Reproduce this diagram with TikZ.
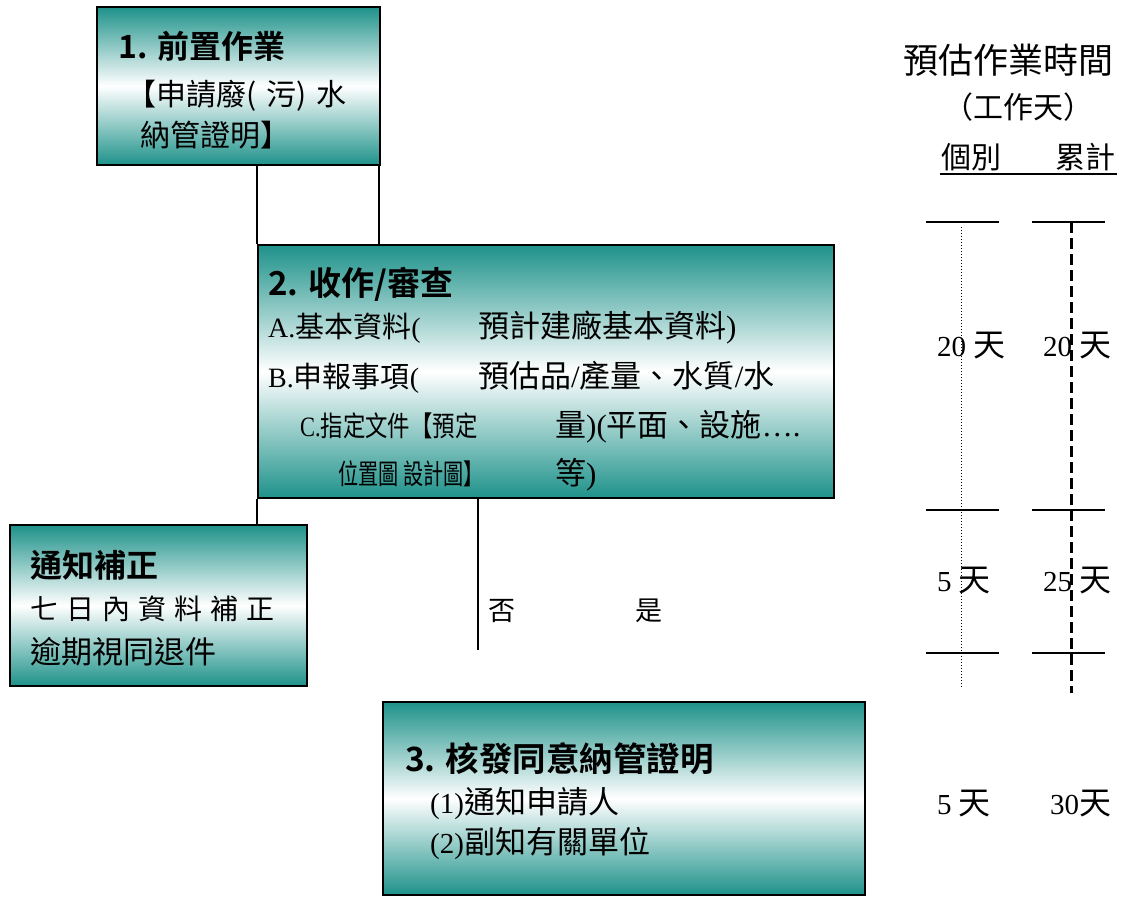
\documentclass[tikz,border=0pt]{standalone}
\usepackage{fontspec}
\setmainfont{Liberation Serif}
\newfontfamily\cjk{Noto Sans CJK TC}[BoldFont={Noto Sans CJK TC Bold}]
\newcommand\fs[1]{\fontsize{#1}{#1}\selectfont}
\newcommand\zh[1]{{\cjk #1}}
\newcommand\zhs[2]{{\cjk\fs{#1}#2}}
\definecolor{tealA}{RGB}{30,146,138}
\begin{document}
\begin{tikzpicture}[x=1pt,y=-1pt,
  box/.style={draw=black,line width=1.8pt,top color=tealA,bottom color=tealA,middle color=white,inner sep=0pt},
  txt/.style={anchor=base west,inner sep=0pt},
  ctxt/.style={anchor=base,inner sep=0pt},
  conn/.style={line width=1.8pt},
  tick/.style={line width=1.8pt}]
\useasboundingbox (0,0) rectangle (1129,897);

% boxes
\node[box,minimum width=283pt,minimum height=158pt] (b1) at (238.5,86) {};
\node[box,minimum width=576pt,minimum height=253pt] (b2) at (546,371.5) {};
\node[box,minimum width=297pt,minimum height=161pt] (nb) at (158.5,605.5) {};
\node[box,minimum width=482pt,minimum height=193pt] (b3) at (624,798.5) {};

% connectors
\draw[conn] (b1.south -| b2.north west) -- (b2.north west);
\draw[conn] ([xshift=-2pt]b1.south east) -- ([xshift=-2pt]b1.south east |- b2.north);
\draw[conn] (b2.south west) -- (b2.south west |- nb.north);
\coordinate (nend) at (478,650);
\draw[conn] (b2.south -| nend) -- (nend);

% box 1
\node[txt,font=\cjk\bfseries\fs{32}] (t1a) at (118,58) {1. 前置作業};
\node[txt,font=\cjk\fs{30}] (t1b) at (126,105) {【申請廢(\,\,污)\,\,水};
\node[txt,font=\cjk\fs{30}] (t1c) at (140,146) {納管證明】};

% box 2
\node[txt,font=\cjk\bfseries\fs{33}] (t2a) at (268,295) {2. 收作/審查};
\node[txt,font=\fs{28}] (t2b) at (268,337) {A.\zhs{29}{基本資料}(};
\node[txt,font=\fs{31}] (t2c) at (478,337) {\zh{預計建廠基本資料})};
\node[txt,font=\fs{28}] (t2d) at (268,387) {B.\zhs{29}{申報事項}(};
\node[txt,font=\fs{31}] (t2e) at (478,387) {\zh{預估品}/\zh{產量、水質}/\zh{水}};
\node[txt,font=\fs{28}] (t2f) at (300,436) {\scalebox{0.8}[1]{C.\zh{指定文件【預定}}};
\node[txt,font=\fs{31}] (t2g) at (555,436) {\zh{量})(\zh{平面、設施}….};
\node[txt,font=\fs{28}] (t2h) at (338,484) {\scalebox{0.72}[1]{\zh{位置圖 設計圖】}}};
\node[txt,font=\fs{31}] (t2i) at (555,484) {\zh{等})};

% notice box
\node[txt,font=\cjk\bfseries\fs{32}] (n1) at (30,577) {通知補正};
\node[txt,font=\cjk\fs{28}] (n2) at (30,619) {七\hspace{8pt}日\hspace{8pt}內\hspace{8pt}資\hspace{8pt}料\hspace{8pt}補\hspace{8pt}正};
\node[txt,font=\cjk\fs{31}] (n3) at (30,663) {逾期視同退件};

% box 3
\node[txt,font=\cjk\bfseries\fs{33.5}] (t3a) at (405,771) {3. 核發同意納管證明};
\node[txt,font=\fs{29}] (t3b) at (430,813) {(1)\zhs{31}{通知申請人}};
\node[txt,font=\fs{29}] (t3c) at (430,853) {(2)\zhs{31}{副知有關單位}};

% decision labels
\node[txt,font=\cjk\fs{27}] (no) at (488,620) {否};
\node[txt,font=\cjk\fs{27}] (yes) at (635,620) {是};

% time column header
\node[ctxt,font=\cjk\fs{35}] (h1) at (1008,73) {預估作業時間};
\node[ctxt,font=\cjk\fs{30}] (h2) at (1018,118) {（工作天）};
\node[txt,font=\cjk\fs{30}] (h3) at (941,168) {個別};
\node[txt,font=\cjk\fs{30}] (h4) at (1055,168) {累計};
\coordinate (u1) at (940,174);
\coordinate (u2) at (1117,174);
\draw[tick] (u1) -- (u2);

% ticks
\coordinate (la1) at (926,222); \coordinate (lb1) at (999,222);
\coordinate (ra1) at (1032,222); \coordinate (rb1) at (1105,222);
\coordinate (la2) at (926,510); \coordinate (lb2) at (999,510);
\coordinate (ra2) at (1032,510); \coordinate (rb2) at (1105,510);
\coordinate (la3) at (926,653); \coordinate (lb3) at (999,653);
\coordinate (ra3) at (1032,653); \coordinate (rb3) at (1105,653);
\draw[tick] (la1) -- (lb1); \draw[tick] (ra1) -- (rb1);
\draw[tick] (la2) -- (lb2); \draw[tick] (ra2) -- (rb2);
\draw[tick] (la3) -- (lb3); \draw[tick] (ra3) -- (rb3);
\coordinate (dt) at (961,227); \coordinate (db) at (961,687);
\draw[line width=1pt,dotted] (dt) -- (db);
\coordinate (st) at (1071,222); \coordinate (sb) at (1071,693);
\draw[line width=3pt,dash pattern=on 11pt off 5pt] (st) -- (sb);

% day labels
\node[txt,font=\fs{29}] (d1) at (937,356) {20 \zhs{32}{天}};
\node[txt,font=\fs{29}] (c1) at (1043,356) {20 \zhs{32}{天}};
\node[txt,font=\fs{29}] (d2) at (937,591) {5 \zhs{32}{天}};
\node[txt,font=\fs{29}] (c2) at (1043,591) {25 \zhs{32}{天}};
\node[txt,font=\fs{29}] (d3) at (937,814) {5 \zhs{32}{天}};
\node[txt,font=\fs{29}] (c3) at (1050,814) {30\zhs{32}{天}};
\end{tikzpicture}
\end{document}
